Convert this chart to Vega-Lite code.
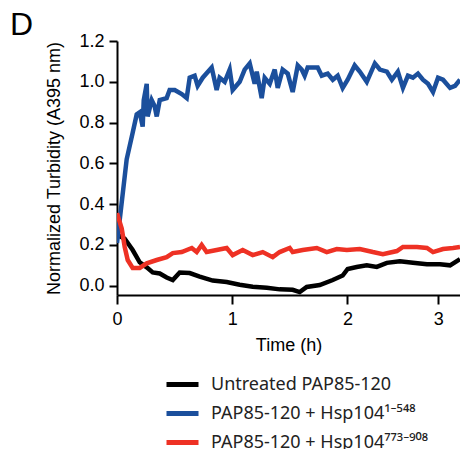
{
  "$schema": "https://vega.github.io/schema/vega-lite/v6.json",
  "autosize": {"type": "none"},
  "padding": {"left": 117, "top": 41, "right": 0, "bottom": 154},
  "width": 343,
  "height": 254,
  "background": "white",
  "title": {"text": "D", "anchor": "start", "frame": "group", "dx": -107, "offset": -10, "fontSize": 32, "fontWeight": "normal", "font": "Liberation Sans", "color": "black"},
  "config": {"view": {"stroke": null}, "font": "Liberation Sans"},
  "datasets": {
    "black": [
      {"t":0.00,"v":0.25},{"t":0.067,"v":0.23},{"t":0.136,"v":0.175},{"t":0.197,"v":0.115},{"t":0.258,"v":0.09},{"t":0.310,"v":0.065},{"t":0.371,"v":0.06},{"t":0.431,"v":0.04},{"t":0.484,"v":0.028},{"t":0.544,"v":0.065},{"t":0.631,"v":0.062},{"t":0.718,"v":0.045},{"t":0.831,"v":0.025},{"t":0.952,"v":0.018},{"t":1.065,"v":0.005},{"t":1.178,"v":-0.005},{"t":1.300,"v":-0.01},{"t":1.413,"v":-0.018},{"t":1.525,"v":-0.02},{"t":1.586,"v":-0.031},{"t":1.647,"v":-0.006},{"t":1.760,"v":0.003},{"t":1.873,"v":0.028},{"t":1.959,"v":0.05},{"t":2.003,"v":0.082},{"t":2.102,"v":0.092},{"t":2.213,"v":0.10},{"t":2.323,"v":0.092},{"t":2.434,"v":0.112},{"t":2.577,"v":0.12},{"t":2.721,"v":0.113},{"t":2.875,"v":0.105},{"t":3.019,"v":0.105},{"t":3.130,"v":0.10},{"t":3.240,"v":0.13}
    ],
    "blue": [
      {"t":0.00,"v":0.21},{"t":0.023,"v":0.32},{"t":0.084,"v":0.62},{"t":0.136,"v":0.75},{"t":0.171,"v":0.84},{"t":0.197,"v":0.85},{"t":0.223,"v":0.78},{"t":0.232,"v":0.91},{"t":0.258,"v":0.99},{"t":0.266,"v":0.83},{"t":0.301,"v":0.91},{"t":0.327,"v":0.88},{"t":0.345,"v":0.83},{"t":0.371,"v":0.91},{"t":0.431,"v":0.92},{"t":0.457,"v":0.96},{"t":0.501,"v":0.96},{"t":0.562,"v":0.94},{"t":0.605,"v":0.92},{"t":0.631,"v":1.02},{"t":0.674,"v":1.03},{"t":0.700,"v":0.98},{"t":0.744,"v":1.02},{"t":0.822,"v":1.07},{"t":0.865,"v":0.96},{"t":0.891,"v":1.02},{"t":0.935,"v":1.00},{"t":0.978,"v":1.06},{"t":1.004,"v":0.96},{"t":1.065,"v":1.00},{"t":1.108,"v":1.06},{"t":1.152,"v":1.09},{"t":1.195,"v":0.99},{"t":1.213,"v":1.05},{"t":1.256,"v":0.92},{"t":1.282,"v":1.02},{"t":1.326,"v":0.99},{"t":1.369,"v":1.06},{"t":1.395,"v":0.97},{"t":1.438,"v":1.06},{"t":1.482,"v":1.04},{"t":1.525,"v":0.95},{"t":1.569,"v":1.08},{"t":1.603,"v":1.06},{"t":1.629,"v":1.03},{"t":1.655,"v":1.07},{"t":1.699,"v":1.07},{"t":1.742,"v":1.07},{"t":1.777,"v":1.03},{"t":1.829,"v":1.04},{"t":1.873,"v":1.01},{"t":1.916,"v":1.03},{"t":1.959,"v":0.97},{"t":2.003,"v":1.01},{"t":2.080,"v":1.08},{"t":2.136,"v":1.05},{"t":2.213,"v":1.00},{"t":2.302,"v":1.09},{"t":2.357,"v":1.06},{"t":2.434,"v":1.05},{"t":2.489,"v":1.01},{"t":2.555,"v":1.05},{"t":2.611,"v":0.97},{"t":2.666,"v":1.03},{"t":2.721,"v":1.02},{"t":2.776,"v":1.04},{"t":2.831,"v":1.01},{"t":2.887,"v":0.99},{"t":2.942,"v":0.95},{"t":2.997,"v":1.02},{"t":3.052,"v":1.01},{"t":3.130,"v":0.97},{"t":3.185,"v":0.98},{"t":3.240,"v":1.01}
    ],
    "red": [
      {"t":0.00,"v":0.356},{"t":0.041,"v":0.28},{"t":0.067,"v":0.19},{"t":0.093,"v":0.126},{"t":0.136,"v":0.087},{"t":0.197,"v":0.087},{"t":0.258,"v":0.11},{"t":0.345,"v":0.126},{"t":0.431,"v":0.14},{"t":0.484,"v":0.16},{"t":0.562,"v":0.165},{"t":0.649,"v":0.185},{"t":0.692,"v":0.165},{"t":0.735,"v":0.20},{"t":0.778,"v":0.165},{"t":0.865,"v":0.175},{"t":0.952,"v":0.185},{"t":1.004,"v":0.15},{"t":1.091,"v":0.175},{"t":1.178,"v":0.15},{"t":1.265,"v":0.165},{"t":1.352,"v":0.14},{"t":1.412,"v":0.165},{"t":1.499,"v":0.185},{"t":1.525,"v":0.165},{"t":1.612,"v":0.175},{"t":1.734,"v":0.185},{"t":1.821,"v":0.165},{"t":1.908,"v":0.18},{"t":1.995,"v":0.175},{"t":2.136,"v":0.18},{"t":2.280,"v":0.165},{"t":2.390,"v":0.155},{"t":2.544,"v":0.17},{"t":2.611,"v":0.19},{"t":2.765,"v":0.19},{"t":2.875,"v":0.185},{"t":2.942,"v":0.165},{"t":3.052,"v":0.18},{"t":3.163,"v":0.185},{"t":3.240,"v":0.19}
    ]
  },
  "encoding": {
    "x": {"field": "t", "type": "quantitative",
      "scale": {"domain": [0, 2, 3, 3.24], "range": [0, 230.4, 321.3, 343], "nice": false, "zero": false},
      "axis": {"values": [0, 1, 2, 3], "title": "Time (h)", "grid": false, "domainColor": "black", "domainWidth": 2, "tickColor": "black", "tickWidth": 2, "tickSize": 9, "labelFontSize": 18, "labelColor": "black", "labelPadding": 6, "titleFontSize": 18, "titleFontWeight": "normal", "titleColor": "black", "titlePadding": 8, "labelFlush": false}},
    "y": {"field": "v", "type": "quantitative",
      "scale": {"domain": [-0.0456, 1.2], "nice": false, "zero": false},
      "axis": {"values": [0, 0.2, 0.4, 0.6, 0.8, 1.0, 1.2], "format": ".1f", "title": "Normalized Turbidity (A395 nm)", "grid": false, "domainColor": "black", "domainWidth": 2, "tickColor": "black", "tickWidth": 2, "tickSize": 8, "labelFontSize": 18, "labelColor": "black", "labelPadding": 5, "titleFontSize": 18, "titleFontWeight": "normal", "titleColor": "black", "titlePadding": 15, "labelFlush": false}},
    "color": {"field": "series", "type": "nominal",
      "scale": {"domain": ["Untreated PAP85-120", "PAP85-120 + Hsp104¹⁻⁵⁴⁸", "PAP85-120 + Hsp104⁷⁷³⁻⁹⁰⁸"], "range": ["#000000", "#1b4f9c", "#ee3124"]},
      "legend": {"title": null, "orient": "none", "legendX": 47, "legendY": 325, "symbolType": "stroke", "symbolStrokeWidth": 5, "symbolSize": 1024, "labelFont": "Noto Sans", "labelFontSize": 18, "labelColor": "#222222", "labelLimit": 400, "rowPadding": -6, "labelOffset": 10}}
  },
  "layer": [
    {"data": {"name": "black"}, "transform": [{"calculate": "'Untreated PAP85-120'", "as": "series"}], "mark": {"type": "line", "strokeWidth": 4.5, "clip": true}},
    {"data": {"name": "blue"}, "transform": [{"calculate": "'PAP85-120 + Hsp104¹⁻⁵⁴⁸'", "as": "series"}], "mark": {"type": "line", "strokeWidth": 4.5, "clip": true}},
    {"data": {"name": "red"}, "transform": [{"calculate": "'PAP85-120 + Hsp104⁷⁷³⁻⁹⁰⁸'", "as": "series"}], "mark": {"type": "line", "strokeWidth": 4.5, "clip": true}}
  ]
}
